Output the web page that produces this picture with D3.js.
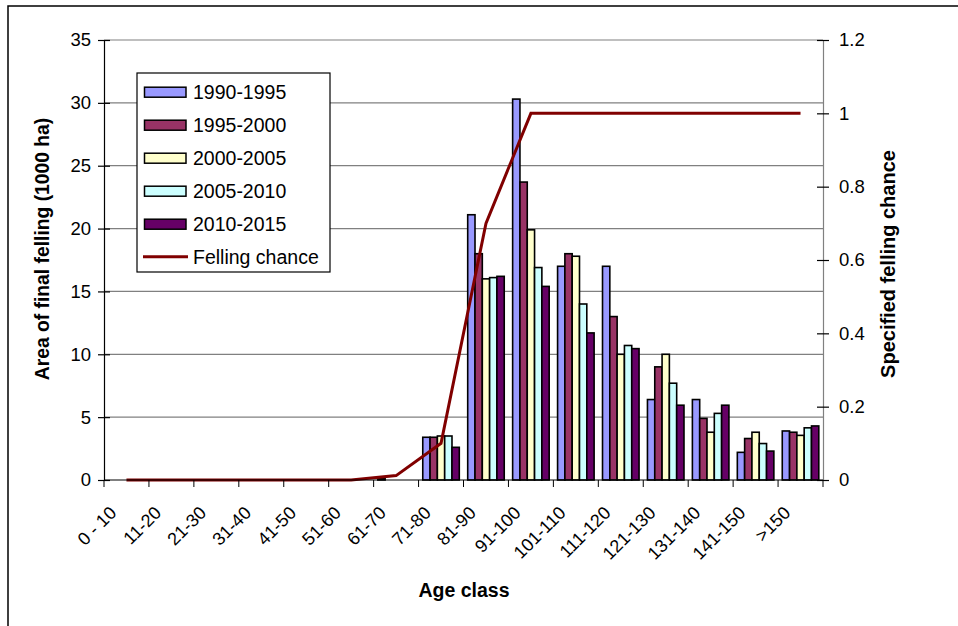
<!DOCTYPE html>
<html lang="en">
<head>
    <meta charset="UTF-8">
    <title>Final felling by age class</title>
    <script src="https://d3js.org/d3.v7.min.js"></script>
    <style>
        body{margin: 0; background: #fff;}
        text{font-family: "Liberation Sans", Arial, sans-serif; fill: #000;}
    </style>
</head>
<body>
    <div id="plot"></div>

    <script>
        function translate(x, y){
            return 'translate(' + x + ', ' + y + ')';
        }

        // data
        let ageClasses = ['0 - 10', '11-20', '21-30', '31-40', '41-50', '51-60', '61-70', '71-80',
                          '81-90', '91-100', '101-110', '111-120', '121-130', '131-140', '141-150', '>150'];
        let periods = ['1990-1995', '1995-2000', '2000-2005', '2005-2010', '2010-2015'];
        let area1990 = [0, 0, 0, 0, 0, 0, 0.1, 3.4, 21.1, 30.3, 17.0, 17.0, 6.4, 6.4, 2.2, 3.9];
        let area1995 = [0, 0, 0, 0, 0, 0, 0, 3.4, 18.0, 23.7, 18.0, 13.0, 9.0, 4.9, 3.3, 3.8];
        let area2000 = [0, 0, 0, 0, 0, 0, 0, 3.5, 16.0, 19.9, 17.8, 10.0, 10.0, 3.8, 3.8, 3.55];
        let area2005 = [0, 0, 0, 0, 0, 0, 0, 3.5, 16.1, 16.9, 14.0, 10.7, 7.7, 5.3, 2.9, 4.15];
        let area2010 = [0, 0, 0, 0, 0, 0, 0, 2.6, 16.2, 15.4, 11.7, 10.45, 5.95, 5.95, 2.3, 4.3];
        let fellingChance = [0, 0, 0, 0, 0, 0, 0.012, 0.1, 0.7, 1, 1, 1, 1, 1, 1, 1];
        let areaTicks = [0, 5, 10, 15, 20, 25, 30, 35];
        let chanceTicks = [0, 0.2, 0.4, 0.6, 0.8, 1, 1.2];

        let seriesValues = [area1990, area1995, area2000, area2005, area2010];
        let colors = ['#9999ff', '#993366', '#ffffcc', '#ccffff', '#660066'];

        let svgWidth = 958;
        let svgHeight = 626;
        let margin = {top: 40, right: 135, bottom: 146, left: 104};
        let width = svgWidth - margin.left - margin.right;
        let height = svgHeight - margin.top - margin.bottom;

        let root = d3.select('#plot')
                    .append('svg')
                        .attr('width', svgWidth)
                        .attr('height', svgHeight);

        // outer chart frame (only top and left edges are in view)
        root.append('path')
            .attr('d', 'M8,' + svgHeight + 'V6H' + svgWidth)
            .attr('fill', 'none')
            .attr('stroke', '#000')
            .attr('stroke-width', 1.5);

        let svg = root.append('g')
                    .attr('transform', translate(margin.left, margin.top));

        let x = d3.scaleBand()
                    .domain(ageClasses)
                    .range([0, width])
                    .paddingInner(0.187)
                    .paddingOuter(0.0935);
        let xSub = d3.scaleBand()
                    .domain(periods)
                    .range([0, x.bandwidth()]);
        let y = d3.scaleLinear()
                    .domain([0, 35])
                    .range([height, 0]);
        let y2 = d3.scaleLinear()
                    .domain([0, 1.2])
                    .range([height, 0]);

        // gridlines
        svg.append('g')
            .selectAll('line')
            .data(areaTicks.filter(d => d > 0))
            .join('line')
                .attr('x1', 0)
                .attr('x2', width)
                .attr('y1', d => y(d))
                .attr('y2', d => y(d))
                .attr('stroke', '#808080')
                .attr('stroke-width', 1.2);

        // bars
        let rows = ageClasses.map((c, i) => periods.map((p, j) => ({cat: c, period: p, value: seriesValues[j][i], k: j})));

        svg.append('g')
            .selectAll('g')
            .data(rows)
            .join('g')
                .attr('transform', d => translate(x(d[0].cat), 0))
            .selectAll('rect')
            .data(d => d.filter(b => b.value > 0))
            .join('rect')
                .attr('x', d => xSub(d.period))
                .attr('width', xSub.bandwidth())
                .attr('y', d => y(d.value))
                .attr('height', d => height - y(d.value))
                .attr('fill', d => colors[d.k])
                .attr('stroke', '#000')
                .attr('stroke-width', 1.6);

        // felling chance line
        let line = d3.line()
                    .x((d, i) => x(ageClasses[i]) + x.bandwidth() / 2)
                    .y(d => y2(d));

        svg.append('path')
            .datum(fellingChance)
            .attr('d', line)
            .attr('fill', 'none')
            .attr('stroke', '#800000')
            .attr('stroke-width', 3)
            .attr('stroke-linejoin', 'miter');

        // left axis
        let yAxis = d3.axisLeft(y)
                    .tickValues(areaTicks)
                    .tickSize(6)
                    .tickSizeOuter(0)
                    .tickPadding(7);
        let gy = svg.append('g').call(yAxis);
        gy.selectAll('.tick line').attr('x1', 6);

        // right axis
        let y2Axis = d3.axisRight(y2)
                    .tickValues(chanceTicks)
                    .tickFormat(d3.format('~g'))
                    .tickSize(6)
                    .tickSizeOuter(0)
                    .tickPadding(10);
        let gy2 = svg.append('g')
                    .attr('transform', translate(width, 0))
                    .call(y2Axis);
        gy2.selectAll('.tick line').attr('x1', -6);
        gy2.select('.domain').attr('stroke', '#808080');

        // bottom axis: ticks at category boundaries
        let gx = svg.append('g')
                    .attr('transform', translate(0, height));
        gx.append('line')
            .attr('x1', 0)
            .attr('x2', width)
            .attr('stroke', '#000');
        gx.selectAll('.bound')
            .data(d3.range(ageClasses.length + 1))
            .join('line')
                .attr('class', 'bound')
                .attr('x1', i => i * x.step())
                .attr('x2', i => i * x.step())
                .attr('y1', 0)
                .attr('y2', 7)
                .attr('stroke', '#000');
        gx.selectAll('text')
            .data(ageClasses)
            .join('text')
                .attr('transform', d => translate(x(d) + x.bandwidth() / 2 - 9, 34) + ' rotate(-45)')
                .attr('text-anchor', 'end')
                .style('font-size', '18px')
                .text(d => d);

        svg.selectAll('.tick text').style('font-size', '18.5px');
        svg.selectAll('.domain, .tick line').attr('stroke-width', 1.2);

        // axis titles
        root.append('text')
            .attr('transform', translate(49, 249) + ' rotate(-90)')
            .attr('text-anchor', 'middle')
            .style('font-size', '19.3px')
            .style('font-weight', 'bold')
            .text('Area of final felling (1000 ha)');
        root.append('text')
            .attr('transform', translate(895, 264) + ' rotate(-90)')
            .attr('text-anchor', 'middle')
            .style('font-size', '20px')
            .style('font-weight', 'bold')
            .text('Specified felling chance');
        root.append('text')
            .attr('x', 464)
            .attr('y', 597)
            .attr('text-anchor', 'middle')
            .style('font-size', '19.5px')
            .style('font-weight', 'bold')
            .text('Age class');

        // legend
        let legend = root.append('g')
                    .attr('transform', translate(137, 73));
        legend.append('rect')
            .attr('width', 193)
            .attr('height', 199)
            .attr('fill', '#fff')
            .attr('stroke', '#000')
            .attr('stroke-width', 1.2);

        let items = legend.selectAll('.item')
                    .data(periods)
                    .join('g')
                        .attr('class', 'item')
                        .attr('transform', (d, i) => translate(0, 18.7 + i * 33));
        items.append('rect')
            .attr('x', 7.5)
            .attr('y', -4.5)
            .attr('width', 41.5)
            .attr('height', 10)
            .attr('fill', (d, i) => colors[i])
            .attr('stroke', '#000')
            .attr('stroke-width', 1.5);
        items.append('text')
            .attr('x', 56)
            .attr('y', 7)
            .style('font-size', '19.5px')
            .text(d => d);

        let lineItem = legend.append('g')
                    .attr('transform', translate(0, 18.7 + 5 * 33));
        lineItem.append('line')
            .attr('x1', 6)
            .attr('x2', 51)
            .attr('stroke', '#800000')
            .attr('stroke-width', 3);
        lineItem.append('text')
            .attr('x', 56)
            .attr('y', 7)
            .style('font-size', '19.5px')
            .text('Felling chance');
    </script>
</body>
</html>
